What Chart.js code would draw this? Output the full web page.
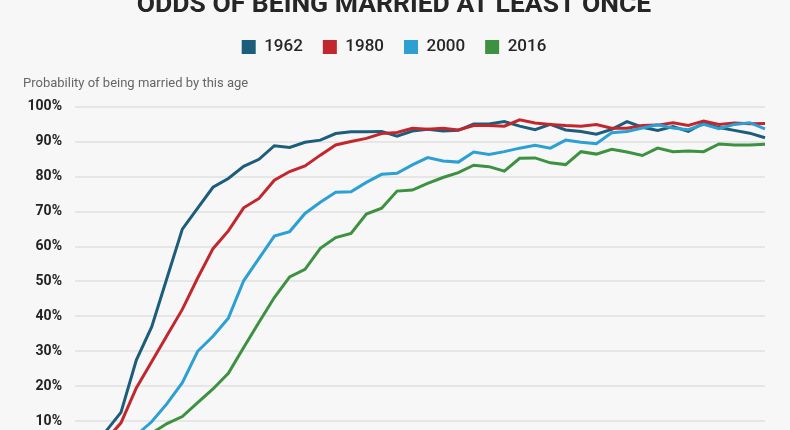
<!DOCTYPE html>
<html><head><meta charset="utf-8">
<script src="https://cdn.jsdelivr.net/npm/chart.js@4"></script>
<style>
html,body{margin:0;padding:0;background:#f7f7f7;overflow:hidden;width:790px;height:430px;}
#wrap{position:absolute;left:0;top:-20px;width:790px;height:520px;}
</style></head><body>
<div id="wrap"><canvas id="c" width="790" height="520"></canvas></div>
<script>
const ages = ['15','16','17','18','19','20','21','22','23','24','25','26','27','28','29','30','31','32','33','34','35','36','37','38','39','40','41','42','43','44','45','46','47','48','49','50','51','52','53','54','55','56','57','58','59','60'];
const seriesNames = ['1962','1980','2000','2016'];
const v1962 = [1,3,7,12.5,27.5,37,51,65,71,77,79.5,83,85,88.9,88.4,89.9,90.5,92.4,92.9,92.9,93.0,91.6,93.1,93.6,93.1,93.3,95.1,95.1,95.8,94.5,93.5,95.0,93.4,93.0,92.2,93.6,95.8,94.2,93.3,94.4,93.0,95.4,94.1,93.3,92.5,91.2];
const v1980 = [1,2,4.5,9.5,19.5,27,34.5,42,51,59.4,64.5,71.1,73.8,79,81.5,83.1,86.2,89.1,90.1,91.0,92.4,92.7,93.9,93.6,93.9,93.4,94.7,94.7,94.5,96.3,95.4,95.0,94.7,94.5,95.0,93.9,93.9,94.7,94.8,95.5,94.7,96.0,95.0,95.4,95.2,95.3];
const v2000 = [0.5,1,2,3.5,6,9.8,15,21,30,34.3,39.5,50.2,56.6,63,64.3,69.5,72.7,75.6,75.7,78.4,80.7,81,83.4,85.5,84.5,84.2,87.1,86.4,87.2,88.2,89.0,88.2,90.5,89.9,89.5,92.6,93.0,94.0,94.9,94.0,93.5,95.0,93.8,95.0,95.5,93.7];
const v2016 = [0.3,0.7,1.2,2.2,3.8,6.5,9.3,11.3,15.3,19.2,23.7,31.1,38.3,45.4,51.3,53.5,59.5,62.6,63.8,69.3,71.0,75.9,76.2,78.1,79.8,81.2,83.3,82.9,81.6,85.3,85.4,84.0,83.5,87.2,86.5,87.9,87.1,86.1,88.2,87.2,87.4,87.2,89.4,89.1,89.1,89.3];
const yTicks = [0,10,20,30,40,50,60,70,80,90,100];

const colors = ['#1b5d7b','#c1272d','#2c9fd3','#3d9140'];
const values = [v1962, v1980, v2000, v2016];

Chart.defaults.font.family = 'Roboto, "Noto Sans", sans-serif';

new Chart(document.getElementById('c'), {
  type: 'line',
  data: {
    labels: ages,
    datasets: seriesNames.map((n, i) => ({
      label: n,
      data: values[i],
      borderColor: colors[i],
      backgroundColor: colors[i],
      borderWidth: 3,
      pointRadius: 0,
      tension: 0,
      fill: false,
      order: 4 - i
    }))
  },
  options: {
    responsive: false,
    animation: false,
    devicePixelRatio: 1,
    layout: { padding: { left: 23, right: 25, top: 0, bottom: 14 } },
    plugins: {
      tooltip: { enabled: false },
      title: {
        display: true,
        text: 'ODDS OF BEING MARRIED AT LEAST ONCE',
        color: '#262626',
        font: { size: 26.5, weight: 'bold', lineHeight: 0.95 },
        padding: { top: 13.2, bottom: 0.1 }
      },
      legend: {
        display: true,
        position: 'top',
        labels: {
          color: '#262626',
          font: { size: 17, weight: 500 },
          boxWidth: 14,
          boxHeight: 14,
          padding: 20,
          generateLabels: (chart) => chart.data.datasets.map((ds, i) => ({
            text: ds.label,
            fillStyle: ds.borderColor,
            strokeStyle: ds.borderColor,
            lineWidth: 0,
            hidden: false,
            datasetIndex: i,
            fontColor: '#262626'
          }))
        }
      },
      subtitle: {
        display: true,
        text: 'Probability of being married by this age',
        align: 'start',
        color: '#666',
        font: { size: 13, weight: 'normal' },
        weight: 500,
        padding: { top: 10.2, bottom: 15.7 }
      }
    },
    scales: {
      x: {
        grid: { display: false },
        border: { display: false },
        ticks: { color: '#222', font: { size: 13 } },
        afterFit: (s) => { s.height = 30; }
      },
      y: {
        min: 0, max: 100,
        afterBuildTicks: (s) => { s.ticks = yTicks.map(v => ({ value: v })); },
        grid: { color: '#e6e6e6', lineWidth: 2, drawTicks: false },
        border: { display: false },
        ticks: {
          padding: 13,
          color: '#222',
          font: { size: 14, weight: 'bold' },
          callback: (v) => v + '%'
        },
        afterFit: (s) => { s.width = 52; }
      }
    }
  }
});
</script>
</body></html>
